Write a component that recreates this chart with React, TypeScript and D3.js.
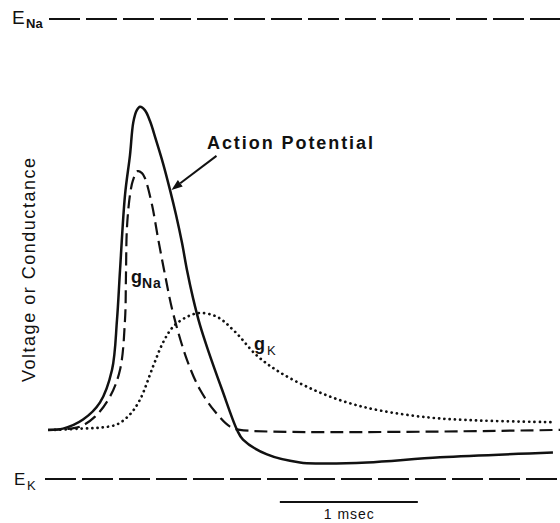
import React from "react";
import * as d3 from "d3";

const W = 560;
const H = 523;

// Membrane potential during the action potential (ms, relative units with rest = 0)
const apTime = [0, 0.109, 0.254, 0.377, 0.464, 0.5, 0.522, 0.558, 0.594, 0.618, 0.643, 0.667, 0.703, 0.739, 0.783, 0.833, 0.884, 0.928, 0.971, 1.007, 1.051, 1.101, 1.159, 1.261, 1.37, 1.413, 1.587, 1.826, 1.971, 2.312, 2.841, 3.659];
const apValue = [0, 0.4, 3.2, 8.5, 18.6, 34.1, 49.5, 72.7, 85.0, 95.2, 98.9, 100, 98.9, 95.6, 89.7, 82.6, 74.3, 66.5, 57.9, 49.5, 40.8, 32.5, 24.8, 12.5, 0, -3.0, -7.6, -10.1, -10.4, -10.1, -8.5, -7.0];

// Sodium conductance
const naTime = [0, 0.159, 0.232, 0.341, 0.449, 0.522, 0.558, 0.565, 0.572, 0.594, 0.616, 0.65, 0.681, 0.703, 0.754, 0.797, 0.848, 0.906, 1.007, 1.101, 1.21, 1.319, 1.391, 3.71];
const naValue = [0, 0.4, 1.0, 4.1, 10.3, 18.6, 34.1, 48.0, 62.5, 72.7, 77.3, 80.1, 79.5, 77.9, 69.6, 59.4, 48.0, 36.2, 21.7, 12.5, 5.7, 1.0, 0, 0];

// Potassium conductance
const kTime = [0.051, 0.232, 0.377, 0.5, 0.594, 0.667, 0.761, 0.833, 0.906, 1.007, 1.101, 1.225, 1.355, 1.514, 1.681, 1.92, 2.167, 2.406, 2.768, 3.13, 3.652];
const kValue = [0, 0.4, 0.7, 1.7, 4.8, 9.4, 19.6, 27.0, 31.9, 35.0, 36.2, 35.0, 30.4, 23.0, 17.8, 12.5, 8.5, 6.0, 3.8, 2.9, 2.4];

// Reversal potentials
const E_NA = 127.2;
const E_K = -15.2;

// Time scale bar
const scaleBarStart = 1.68;
const scaleBarLength = 1;
const scaleBarLabel = "1 msec";

// Point on the action potential that the label arrow points to
const arrowIndex = 16;

type Pt = [number, number];
const zip = (t: number[], v: number[]): Pt[] => t.map((d, i) => [d, v[i]]);

export default function App() {
  const x = d3.scaleLinear().domain([0, 1]).range([48, 186]);
  const y = d3.scaleLinear().domain([E_K, E_NA]).range([479, 19]);

  const line = d3
    .line<Pt>()
    .x((d) => x(d[0]))
    .y((d) => y(d[1]))
    .curve(d3.curveCatmullRom.alpha(0.5));

  const apPath = line(zip(apTime, apValue)) || "";
  const naPath = line(zip(naTime, naValue)) || "";
  const kPath = line(zip(kTime, kValue)) || "";

  const font = "'Liberation Sans', Arial, sans-serif";

  // Arrow pointing at the falling phase of the action potential
  const tipX = x(apTime[arrowIndex]) + 1.5;
  const tipY = y(apValue[arrowIndex]);
  const tailX = tipX + 45;
  const tailY = tipY - 34;
  const dx = tipX - tailX;
  const dy = tipY - tailY;
  const len = Math.hypot(dx, dy);
  const ux = dx / len;
  const uy = dy / len;
  const headL = 11;
  const headW = 4;
  const bx = tipX - ux * headL;
  const by = tipY - uy * headL;
  const head = `${tipX},${tipY} ${bx - uy * headW},${by + ux * headW} ${bx + uy * headW},${by - ux * headW}`;

  return (
    <svg
      width={W}
      height={H}
      style={{ position: "fixed", left: 0, top: 0, background: "#fff" }}
    >
      {/* Reversal potential lines */}
      <line x1={49} x2={W} y1={y(E_NA)} y2={y(E_NA)} stroke="#111" strokeWidth={2.2} strokeDasharray="31,6" />
      <line x1={45} x2={W} y1={y(E_K)} y2={y(E_K)} stroke="#111" strokeWidth={2.2} strokeDasharray="31,6" />
      <text x={12} y={y(E_NA) + 5} fontFamily={font} fontSize={19} fill="#111">E</text>
      <text x={26} y={y(E_NA) + 9} fontFamily={font} fontSize={13} fontWeight="bold" fill="#111">Na</text>
      <text x={14} y={y(E_K) + 6} fontFamily={font} fontSize={17} fill="#111">E</text>
      <text x={27} y={y(E_K) + 11} fontFamily={font} fontSize={13} fill="#111">K</text>

      {/* Conductances and membrane potential */}
      <path d={kPath} fill="none" stroke="#111" strokeWidth={2.7} strokeDasharray="0.1,5.2" strokeLinecap="round" />
      <path d={naPath} fill="none" stroke="#111" strokeWidth={2.2} strokeDasharray="13,6" />
      <path d={apPath} fill="none" stroke="#111" strokeWidth={2.5} />

      {/* Curve labels */}
      <text x={207} y={149} fontFamily={font} fontSize={18} fontWeight="bold" fill="#111" textLength={166} lengthAdjust="spacing">Action Potential</text>
      <line x1={tailX} y1={tailY} x2={bx} y2={by} stroke="#111" strokeWidth={2} />
      <polygon points={head} fill="#111" />

      <text x={131} y={283} fontFamily={font} fontSize={18} fontWeight="bold" fill="#111">g</text>
      <text x={142} y={288} fontFamily={font} fontSize={14} fontWeight="bold" fill="#111" letterSpacing={1}>Na</text>
      <text x={254} y={350} fontFamily={font} fontSize={18} fontWeight="bold" fill="#111">g</text>
      <text x={267} y={355} fontFamily={font} fontSize={13} fill="#111">K</text>

      {/* Axis title */}
      <text
        transform="translate(35,270) rotate(-90)"
        textAnchor="middle"
        fontFamily={font}
        fontSize={18}
        fill="#111"
        textLength={224}
        lengthAdjust="spacing"
      >
        Voltage or Conductance
      </text>

      {/* Time scale bar */}
      <line
        x1={x(scaleBarStart)}
        x2={x(scaleBarStart + scaleBarLength)}
        y1={502}
        y2={502}
        stroke="#111"
        strokeWidth={2.2}
      />
      <text
        x={x(scaleBarStart + scaleBarLength / 2)}
        y={519}
        textAnchor="middle"
        fontFamily={font}
        fontSize={14}
        fill="#111"
        textLength={50}
        lengthAdjust="spacing"
      >
        {scaleBarLabel}
      </text>
    </svg>
  );
}
